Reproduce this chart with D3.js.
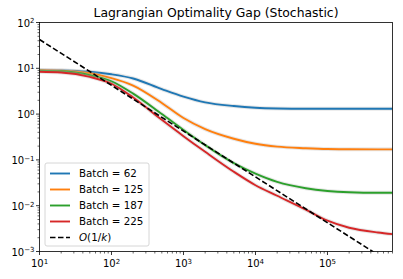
<!DOCTYPE html>
<html>
<head>
  <meta charset="utf-8">
  <script src="https://d3js.org/d3.v7.min.js"></script>
  <style>
    body { margin: 0; background: #fff; }
    text { font-family: "DejaVu Sans", sans-serif; fill: #000; }
  </style>
</head>
<body>
<div id="chart"></div>
<script>
// iterations sampled on a log grid
var iters = [10, 20, 50, 100, 200, 500, 1e3, 2e3, 5e3, 1e4, 2e4, 5e4, 1e5, 2e5, 5e5, 8e5];

var batch62  = [9.1, 9.0, 8.4, 7.4, 6.0, 3.5, 2.4, 1.8, 1.5, 1.38, 1.33, 1.31, 1.31, 1.31, 1.31, 1.31];
var batch125 = [9.1, 8.9, 7.8, 6.1, 4.2, 1.75, 0.82, 0.47, 0.29, 0.225, 0.195, 0.18, 0.173, 0.171, 0.17, 0.17];
var batch187 = [8.9, 8.6, 7.1, 5.2, 2.8, 1.0, 0.45, 0.21, 0.085, 0.05, 0.033, 0.024, 0.021, 0.0197, 0.0192, 0.0192];
var batch225 = [8.4, 8.1, 6.5, 4.6, 2.3, 0.75, 0.33, 0.15, 0.055, 0.028, 0.0165, 0.0082, 0.0047, 0.0033, 0.0026, 0.0024];

var seriesNames = ["Batch = 62", "Batch = 125", "Batch = 187", "Batch = 225"];
var seriesColors = ["#1f77b4", "#ff7f0e", "#2ca02c", "#d62728"];
var seriesValues = [batch62, batch125, batch187, batch225];

// reference rate C/k
var rateConst = 425;
var rateIters = [10, 8e5];

var xTicks = [1, 2, 3, 4, 5];   // exponents
var yTicks = [-3, -2, -1, 0, 1, 2];

var W = 403, H = 279;
var margin = {top: 22.5, right: 10.5, bottom: 27.5, left: 39.5};
var width = W - margin.left - margin.right,
    height = H - margin.top - margin.bottom;

var svg = d3.select("#chart").append("svg")
    .attr("width", W).attr("height", H);

var g = svg.append("g")
    .attr("transform", "translate(" + margin.left + "," + margin.top + ")");

var x = d3.scaleLog().domain([10, 8e5]).range([0, width]);
var y = d3.scaleLog().domain([1e-3, 1e2]).range([height, 0]);

g.append("clipPath").attr("id", "clip")
  .append("rect").attr("width", width).attr("height", height);

// minor ticks
var xMinor = [];
for (var e = 1; e <= 5; e++) for (var m = 2; m <= 9; m++) {
  var v = m * Math.pow(10, e);
  if (v <= 8e5) xMinor.push(v);
}
var yMinor = [];
for (var e2 = -3; e2 < 2; e2++) for (var m2 = 2; m2 <= 9; m2++) yMinor.push(m2 * Math.pow(10, e2));

g.selectAll(".xminor").data(xMinor).enter().append("line")
  .attr("x1", function(d) { return x(d); }).attr("x2", function(d) { return x(d); })
  .attr("y1", height).attr("y2", height + 2)
  .attr("stroke", "#000").attr("stroke-width", 0.6);
g.selectAll(".yminor").data(yMinor).enter().append("line")
  .attr("x1", 0).attr("x2", -2)
  .attr("y1", function(d) { return y(d); }).attr("y2", function(d) { return y(d); })
  .attr("stroke", "#000").attr("stroke-width", 0.6);

// major ticks + labels
g.selectAll(".xmajor").data(xTicks).enter().append("line")
  .attr("x1", function(d) { return x(Math.pow(10, d)); })
  .attr("x2", function(d) { return x(Math.pow(10, d)); })
  .attr("y1", height).attr("y2", height + 3.5)
  .attr("stroke", "#000").attr("stroke-width", 0.8);
g.selectAll(".ymajor").data(yTicks).enter().append("line")
  .attr("x1", 0).attr("x2", -3.5)
  .attr("y1", function(d) { return y(Math.pow(10, d)); })
  .attr("y2", function(d) { return y(Math.pow(10, d)); })
  .attr("stroke", "#000").attr("stroke-width", 0.8);

function powLabel(sel, exp) {
  sel.append("tspan").text("10");
  sel.append("tspan").attr("dy", "-0.45em").attr("font-size", "7px")
    .text(exp < 0 ? "\u2212" + (-exp) : exp);
}

g.selectAll(".xlab").data(xTicks).enter().append("text")
  .attr("x", function(d) { return x(Math.pow(10, d)); })
  .attr("y", height + 15.5)
  .attr("text-anchor", "middle")
  .attr("font-size", "10px")
  .each(function(d) { powLabel(d3.select(this), d); });

g.selectAll(".ylab").data(yTicks).enter().append("text")
  .attr("x", -5)
  .attr("y", function(d) { return y(Math.pow(10, d)) + 4; })
  .attr("text-anchor", "end")
  .attr("font-size", "10px")
  .each(function(d) { powLabel(d3.select(this), d); });

// lines
var line = d3.line()
  .x(function(d) { return x(d[0]); })
  .y(function(d) { return y(d[1]); })
  .curve(d3.curveMonotoneX);

var plot = g.append("g").attr("clip-path", "url(#clip)");

seriesValues.forEach(function(vals, i) {
  var pts = iters.map(function(k, j) { return [k, vals[j]]; });
  plot.append("path").datum(pts)
    .attr("d", line).attr("fill", "none")
    .attr("stroke", "#bbb").attr("stroke-opacity", 0.35)
    .attr("stroke-width", 4);
  plot.append("path").datum(pts)
    .attr("d", line).attr("fill", "none")
    .attr("stroke", seriesColors[i]).attr("stroke-width", 1.9);
});

plot.append("path")
  .datum(rateIters.map(function(k) { return [k, rateConst / k]; }))
  .attr("d", d3.line().x(function(d) { return x(d[0]); }).y(function(d) { return y(d[1]); }))
  .attr("fill", "none").attr("stroke", "#000")
  .attr("stroke-width", 1.6).attr("stroke-dasharray", "5.5,2.5");

// frame
g.append("rect").attr("width", width).attr("height", height)
  .attr("fill", "none").attr("stroke", "#000").attr("stroke-width", 0.8);

// title
svg.append("text")
  .attr("x", margin.left + width / 2).attr("y", 16.5)
  .attr("text-anchor", "middle").attr("font-size", "12.4px")
  .text("Lagrangian Optimality Gap (Stochastic)");

// legend
var leg = svg.append("g").attr("transform", "translate(45,163)");
leg.append("rect").attr("width", 104).attr("height", 83).attr("rx", 2)
  .attr("fill", "#fff").attr("fill-opacity", 0.8)
  .attr("stroke", "#ccc").attr("stroke-width", 0.8);

var legItems = seriesNames.map(function(n, i) { return {name: n, color: seriesColors[i], dash: null}; });
legItems.push({name: null, color: "#000", dash: "5.5,2.5"});

legItems.forEach(function(it, i) {
  var yy = 10.5 + i * 16;
  leg.append("line").attr("x1", 5).attr("x2", 25).attr("y1", yy).attr("y2", yy)
    .attr("stroke", it.color).attr("stroke-width", it.dash ? 1.6 : 1.9)
    .attr("stroke-dasharray", it.dash);
  var t = leg.append("text").attr("x", 34).attr("y", yy + 3.6).attr("font-size", "10.3px");
  if (it.name) t.text(it.name);
  else {
    t.append("tspan").attr("font-style", "italic").text("O");
    t.append("tspan").text("(1/");
    t.append("tspan").attr("font-style", "italic").text("k");
    t.append("tspan").text(")");
  }
});
</script>
</body>
</html>
